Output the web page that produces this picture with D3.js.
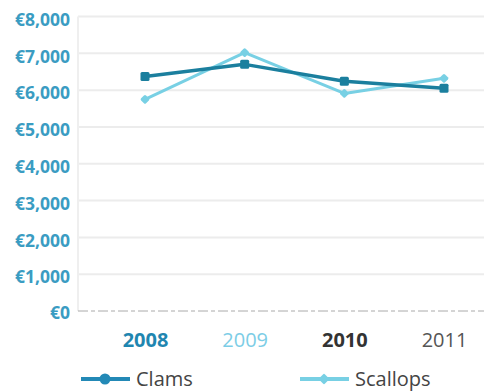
<!DOCTYPE html>
<html><head><meta charset="utf-8">
<script src="https://cdn.jsdelivr.net/npm/d3@7"></script>
<style>
html,body{margin:0;padding:0;background:#fff;}
svg{display:block;font-family:"Open Sans",sans-serif;}
</style></head>
<body>
<svg id="chart" width="492" height="392"></svg>
<script>
const years = ["2008","2009","2010","2011"];
const clams = [6370, 6700, 6240, 6050];
const scallops = [5750, 7020, 5910, 6320];
const yTicks = [0,1000,2000,3000,4000,5000,6000,7000,8000];
const yearColors = ["#1f86b0","#7ccde6","#333333","#555555"];
const yearWeights = ["bold","normal","bold","normal"];
const seriesNames = ["Clams","Scallops"];
const seriesColors = ["#1b7f9e","#78d0e4"];
const legendColors = ["#2389b6","#78d0e4"];

const svg = d3.select("#chart");
const x = d3.scalePoint().domain(years).range([145, 444]);
const y = d3.scaleLinear().domain([0, 8000]).range([311, 16.5]);

// gridlines
svg.append("g").selectAll("line").data(yTicks.filter(d=>d>0)).join("line")
  .attr("x1", 78).attr("x2", 484)
  .attr("y1", d=>y(d)).attr("y2", d=>y(d))
  .attr("stroke", "#ececec").attr("stroke-width", 2);
// left axis line
svg.append("line").attr("x1",78).attr("x2",78).attr("y1",y(8000)).attr("y2",y(0))
  .attr("stroke","#efefef").attr("stroke-width",2);
// baseline
svg.append("line").attr("x1",78).attr("x2",484).attr("y1",y(0)).attr("y2",y(0))
  .attr("stroke","#aaaaaa").attr("stroke-width",1).attr("stroke-dasharray","10,3,4,3");

// y axis labels
const yAxis = d3.axisLeft(y).tickValues(yTicks).tickSize(0).tickPadding(0)
  .tickFormat(d => "€" + d3.format(",")(d));
const ya = svg.append("g").attr("transform","translate(70,0)").call(yAxis);
ya.select(".domain").remove();
ya.selectAll("text").attr("fill","#3a9cc2").attr("font-size","17.5px").attr("font-weight","bold")
  .attr("dy", d => d===0 ? "0.42em" : "0.5em")
  .attr("font-family","'Open Sans',sans-serif");

// x axis labels
const xAxis = d3.axisBottom(x).tickSize(0).tickPadding(0);
const xa = svg.append("g").attr("transform","translate(0,333)").call(xAxis);
xa.select(".domain").remove();
xa.selectAll("text")
  .attr("fill", (d,i)=>yearColors[i])
  .attr("font-weight", (d,i)=>yearWeights[i])
  .attr("font-size","20px").attr("dy","0.71em")
  .attr("font-family","'Open Sans',sans-serif");

// lines
const line = d3.line().x((d,i)=>x(years[i])).y(d=>y(d));
const seriesData = [clams, scallops];
[1,0].forEach(si => {
  const g = svg.append("g");
  g.append("path").datum(seriesData[si]).attr("d", line)
    .attr("fill","none").attr("stroke", seriesColors[si]).attr("stroke-width", si===0 ? 3.5 : 3)
    .attr("stroke-linejoin","round");
  if (si === 0) {
    g.selectAll("rect").data(seriesData[si]).join("rect")
      .attr("x",(d,i)=>x(years[i])-4.5).attr("y",d=>y(d)-4.5)
      .attr("width",9).attr("height",9).attr("rx",1.5)
      .attr("fill", seriesColors[si]);
  } else {
    g.selectAll("rect").data(seriesData[si]).join("rect")
      .attr("x",-3.5).attr("y",-3.5).attr("width",7).attr("height",7).attr("rx",1.5)
      .attr("transform",(d,i)=>`translate(${x(years[i])},${y(d)}) rotate(45)`)
      .attr("fill", seriesColors[si]);
  }
});

// legend
const legendX = [81, 300];
seriesNames.forEach((name,i)=>{
  const g = svg.append("g").attr("transform",`translate(${legendX[i]},379)`);
  g.append("line").attr("x1",0).attr("x2",49).attr("y1",0).attr("y2",0)
    .attr("stroke",legendColors[i]).attr("stroke-width",4);
  if (i===0) g.append("circle").attr("cx",24).attr("cy",0).attr("r",5.5).attr("fill",legendColors[i]);
  else g.append("rect").attr("x",-4).attr("y",-4).attr("width",8).attr("height",8).attr("rx",1.5)
    .attr("transform","translate(24,0) rotate(45)").attr("fill",legendColors[i]);
  g.append("text").attr("x",55).attr("y",0).attr("dy","0.36em")
    .attr("font-size","20px").attr("fill","#444").text(name);
});
</script>
</body></html>
